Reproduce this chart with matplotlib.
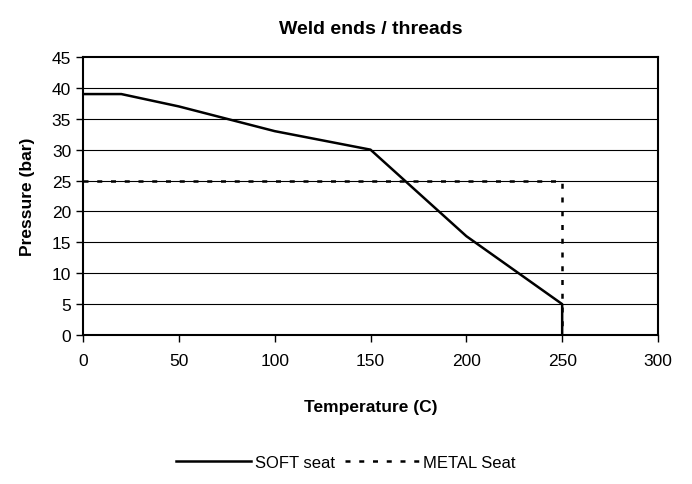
import matplotlib
matplotlib.use("Agg")
import matplotlib.pyplot as plt

plt.rcParams['font.family'] = ["Liberation Sans", "DejaVu Sans"]

soft_x = [0, 20, 50, 100, 150, 200, 250, 250]
soft_y = [39, 39, 37, 33, 30, 16, 5, 0]
metal_x = [0, 250, 250]
metal_y = [25, 25, 0]
xticks = [0, 50, 100, 150, 200, 250, 300]
yticks = [0, 5, 10, 15, 20, 25, 30, 35, 40, 45]

fig = plt.figure(figsize=(6.92, 4.85), dpi=100)
ax = fig.add_axes([83/692, 1-336/485, (658-83)/692, (336-58)/485])
for y in yticks[1:-1]:
    ax.axhline(y, color="black", lw=0.8, zorder=1)
ax.plot(soft_x, soft_y, color="black", lw=1.8, label="SOFT seat", zorder=3)
ax.plot(metal_x, metal_y, color="black", lw=1.8, ls=(0, (2, 3.5)), label="METAL Seat", zorder=3)
ax.set_xlim(0, 300)
ax.set_ylim(0, 45)
ax.set_xticks(xticks)
ax.set_yticks(yticks)
ax.tick_params(direction="out", length=5, width=1, labelsize=12.5, colors="black")
ax.tick_params(axis="x", pad=8)
for s in ax.spines.values():
    s.set_linewidth(1.5)
    s.set_color("black")
ax.set_xlabel("Temperature (C)", fontsize=12.5, fontweight="bold", labelpad=22)
ax.set_ylabel("Pressure (bar)", fontsize=12.5, fontweight="bold", labelpad=12)
ax.set_title("Weld ends / threads", fontsize=14, fontweight="bold", pad=17)
fig.legend(loc="center", bbox_to_anchor=(0.5, 1-463/485), ncol=2, frameon=False,
           fontsize=12, handlelength=4.5, columnspacing=0.6, handletextpad=0.2)
fig.savefig("out.png", dpi=100)
